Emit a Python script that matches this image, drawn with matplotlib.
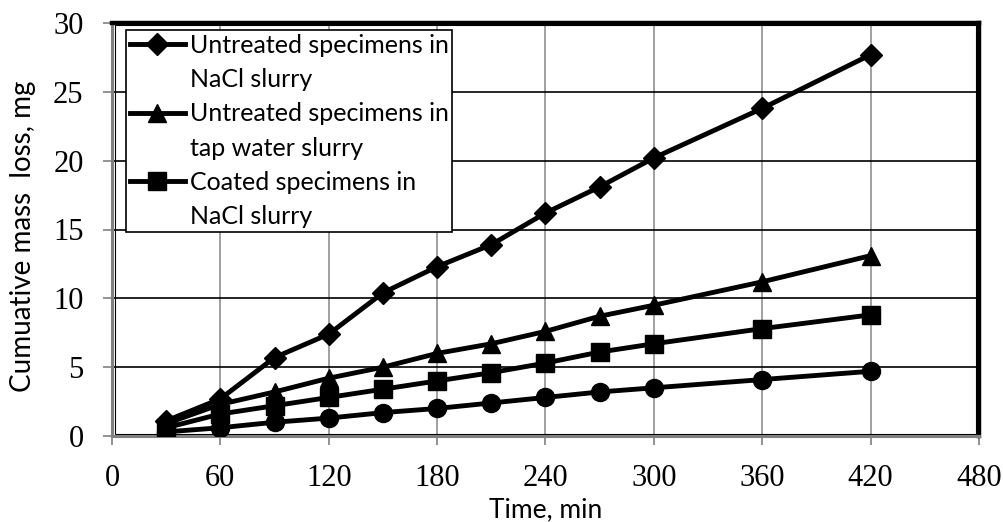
import matplotlib
matplotlib.use("Agg")
import matplotlib.pyplot as plt
from matplotlib.lines import Line2D
from matplotlib.patches import Rectangle

time_min = [30, 60, 90, 120, 150, 180, 210, 240, 270, 300, 360, 420]
untreated_nacl = [1.1, 2.7, 5.7, 7.4, 10.4, 12.3, 13.9, 16.2, 18.1, 20.2, 23.8, 27.7]
untreated_tap = [0.9, 2.3, 3.2, 4.2, 5.0, 6.0, 6.7, 7.6, 8.7, 9.5, 11.2, 13.1]
coated_nacl = [0.6, 1.6, 2.2, 2.8, 3.4, 4.0, 4.6, 5.3, 6.1, 6.7, 7.8, 8.8]
coated_tap = [0.3, 0.6, 1.0, 1.3, 1.7, 2.0, 2.4, 2.8, 3.2, 3.5, 4.1, 4.7]

labels = ["Untreated specimens in\nNaCl slurry",
          "Untreated specimens in\ntap water slurry",
          "Coated specimens in\nNaCl slurry"]
x_ticks = [0, 60, 120, 180, 240, 300, 360, 420, 480]
y_ticks = [0, 5, 10, 15, 20, 25, 30]

fig = plt.figure(figsize=(10.04, 5.22), dpi=100)
ax = fig.add_axes([112 / 1004, 1 - 436 / 522, (979 - 112) / 1004, (436 - 23) / 522])

lw = 3.5
l1, = ax.plot(time_min, untreated_nacl, color="black", lw=lw, marker="D", ms=11, zorder=5)
l2, = ax.plot(time_min, untreated_tap, color="black", lw=lw, marker="^", ms=13, zorder=5)
l3, = ax.plot(time_min, coated_nacl, color="black", lw=lw, marker="s", ms=13, zorder=5)
l4, = ax.plot(time_min, coated_tap, color="black", lw=lw, marker="o", ms=13, zorder=5)

ax.set_xlim(0, 480)
ax.set_ylim(0, 30)
ax.set_xticks(x_ticks)
ax.set_yticks(y_ticks)
ax.set_xticklabels([str(v) for v in x_ticks], fontsize=22, family="Liberation Serif")
ax.set_yticklabels([str(v) for v in y_ticks], fontsize=22, family="Liberation Serif")
ax.tick_params(axis="both", direction="out", length=6.5, width=1.2, color="#808080")
ax.tick_params(axis="y", pad=14)
ax.tick_params(axis="x", pad=14)

ax.yaxis.grid(True, color="black", lw=1.2)
ax.xaxis.grid(True, color="#999999", lw=1.3)
ax.set_axisbelow(True)

for s in ["left", "bottom"]:
    ax.spines[s].set_color("#808080")
    ax.spines[s].set_linewidth(2.2)
for s in ["top", "right"]:
    ax.spines[s].set_color("black")
    ax.spines[s].set_linewidth(3.2)

ax.add_patch(Rectangle((0.004, 0.004), 0.992, 0.99, transform=ax.transAxes,
                       fill=False, ec="black", lw=0.8, zorder=1))

ax.set_xlabel("Time, min", fontsize=19, family="Lato", labelpad=3)
ax.set_ylabel("Cumuative mass  loss, mg", fontsize=20, family="Lato")
ax.yaxis.set_label_coords((36 - 112) / 867, (436 - 236) / 413)

empty = Line2D([], [], linestyle="none")
handles, leg_labels = [], []
for h, lab in zip([l1, l2, l3], labels):
    first, second = lab.split("\n")
    handles += [h, empty]
    leg_labels += [first, second]

leg = ax.legend(handles, leg_labels, loc="upper left", bbox_to_anchor=(0.016, 0.983),
                prop={"family": "Lato", "size": 18}, frameon=True, fancybox=False,
                edgecolor="black", framealpha=1, handlelength=2.2, handletextpad=0.2,
                labelspacing=0.45, borderpad=0.15, borderaxespad=0.0)
leg.get_frame().set_linewidth(1.2)
leg.set_zorder(10)

fig.savefig("out.png", dpi=100)
